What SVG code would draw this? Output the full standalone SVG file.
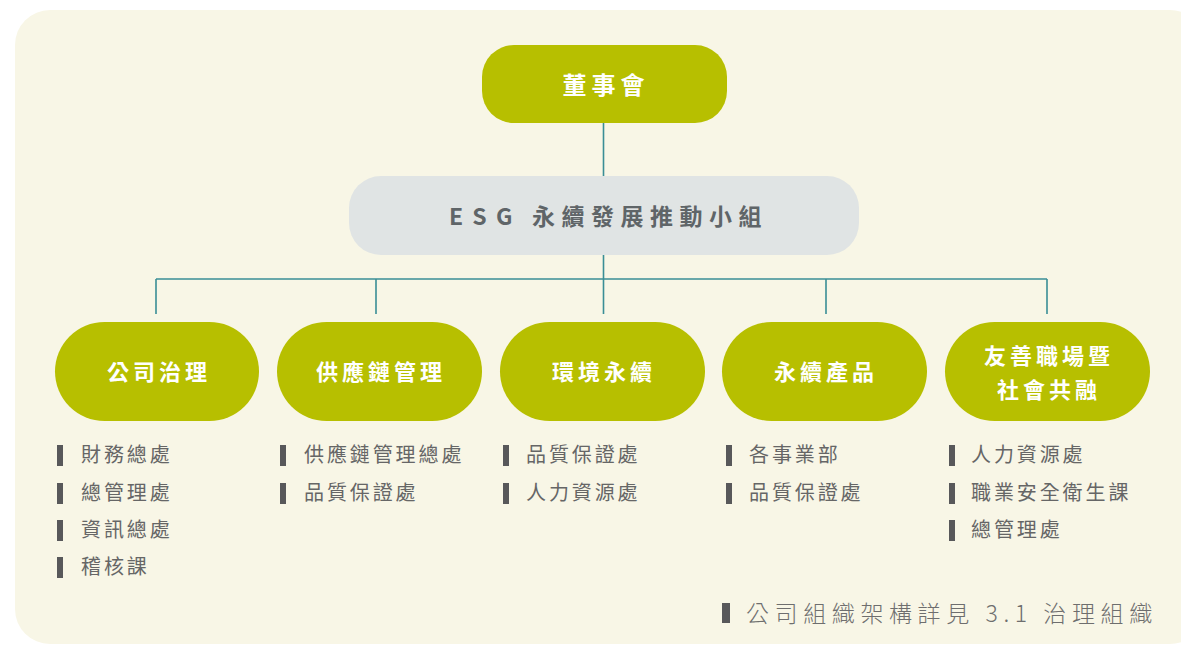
<svg xmlns="http://www.w3.org/2000/svg" width="1181" height="646" viewBox="0 0 1181 646">
<style>
.bg{fill:#f8f6e6}
.pill{fill:#b7bf00}
.pt{font-family:"Noto Sans CJK TC","Noto Sans",sans-serif;font-size:22px;font-weight:bold;fill:#ffffff;text-anchor:middle;letter-spacing:4px}
.li{font-family:"Noto Sans CJK TC","Noto Sans",sans-serif;font-size:20px;fill:#666666;letter-spacing:2.9px}
.bar{fill:#58585a}
.con{stroke:#3a8e96;stroke-width:1.6;fill:none}
</style>
<rect class="bg" x="15" y="10" width="1190" height="634" rx="35"/>
<g id="connectors">
<path class="con" d="M603.5 123 V176 M603.5 255 V279 M156 279 H1047 M156 279 V314 M376 279 V314 M603.5 279 V314 M826 279 V314 M1047 279 V314"/>
</g>
<g id="board">
<rect class="pill" x="482" y="45" width="245" height="78" rx="32"/>
<text class="pt" x="606" y="94" style="font-size:24px;letter-spacing:5px">董事會</text>
</g>
<g id="esg">
<rect x="349" y="176" width="510" height="79" rx="32" fill="#e0e4e4"/>
<text font-family="'Noto Sans CJK TC','Noto Sans',sans-serif" font-size="23" font-weight="bold" fill="#5f6568" y="225"><tspan x="449" letter-spacing="2">E S G</tspan><tspan x="532" letter-spacing="6.5">永續發展推動小組</tspan></text>
</g>
<g id="n1">
<rect class="pill" x="55" y="322" width="204" height="99" rx="49.5"/>
<text class="pt" x="159" y="380">公司治理</text>
<rect class="bar" x="57" y="445" width="6" height="21"/><text class="li" x="81" y="462">財務總處</text>
<rect class="bar" x="57" y="483" width="6" height="21"/><text class="li" x="81" y="500">總管理處</text>
<rect class="bar" x="57" y="520" width="6" height="21"/><text class="li" x="81" y="537">資訊總處</text>
<rect class="bar" x="57" y="557" width="6" height="21"/><text class="li" x="81" y="574">稽核課</text>
</g>
<g id="n2">
<rect class="pill" x="277" y="322" width="205" height="99" rx="49.5"/>
<text class="pt" x="381" y="380">供應鏈管理</text>
<rect class="bar" x="280" y="445" width="6" height="21"/><text class="li" x="304" y="462">供應鏈管理總處</text>
<rect class="bar" x="280" y="483" width="6" height="21"/><text class="li" x="304" y="500">品質保證處</text>
</g>
<g id="n3">
<rect class="pill" x="500" y="322" width="205" height="99" rx="49.5"/>
<text class="pt" x="604" y="380">環境永續</text>
<rect class="bar" x="503" y="445" width="6" height="21"/><text class="li" x="526" y="462">品質保證處</text>
<rect class="bar" x="503" y="483" width="6" height="21"/><text class="li" x="526" y="500">人力資源處</text>
</g>
<g id="n4">
<rect class="pill" x="722" y="322" width="205" height="99" rx="49.5"/>
<text class="pt" x="826" y="380">永續產品</text>
<rect class="bar" x="726" y="445" width="6" height="21"/><text class="li" x="749" y="462">各事業部</text>
<rect class="bar" x="726" y="483" width="6" height="21"/><text class="li" x="749" y="500">品質保證處</text>
</g>
<g id="n5">
<rect class="pill" x="945" y="322" width="205" height="99" rx="49.5"/>
<text class="pt" x="1049" y="364">友善職場暨</text>
<text class="pt" x="1049" y="398">社會共融</text>
<rect class="bar" x="949" y="445" width="6" height="21"/><text class="li" x="971" y="462">人力資源處</text>
<rect class="bar" x="949" y="483" width="6" height="21"/><text class="li" x="971" y="500">職業安全衛生課</text>
<rect class="bar" x="949" y="520" width="6" height="21"/><text class="li" x="971" y="537">總管理處</text>
</g>
<g id="footer">
<rect class="bar" x="722" y="603" width="8" height="20"/>
<text font-family="'Noto Sans CJK TC','Noto Sans',sans-serif" font-size="23" font-weight="300" fill="#6e6e6e" x="746" y="622" letter-spacing="5.6">公司組織架構詳見 3.1 治理組織</text>
</g>
</svg>
